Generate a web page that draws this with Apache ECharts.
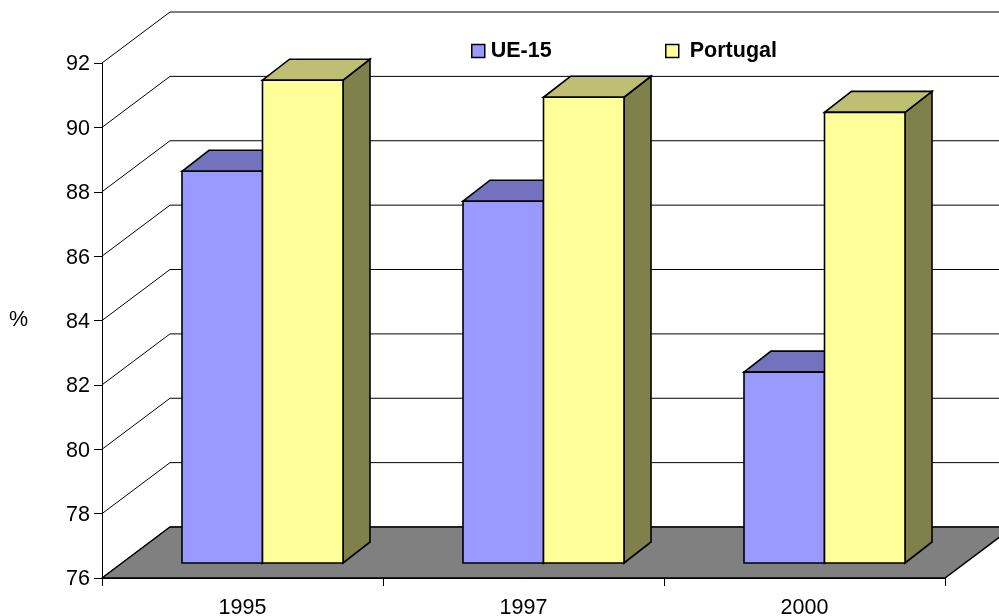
<!DOCTYPE html>
<html>
<head>
<meta charset="utf-8">
<title>UE-15 / Portugal</title>
<style>
html, body { margin: 0; padding: 0; background: #fff; }
#chart { width: 999px; height: 616px; }
</style>
<script src="https://cdn.jsdelivr.net/npm/echarts@6/dist/echarts.min.js"></script>
</head>
<body>
<div id="chart"></div>
<script>
const categories = ['1995', '1997', '2000']
const ue15 = [88.17, 87.24, 81.93]
const portugal = [91.0, 90.47, 90.0]
const tickValues = [76, 78, 80, 82, 84, 86, 88, 90, 92]

const fontName = '"Liberation Sans", Arial, sans-serif'
const labelSize = 21.5

// fake 3D: how far the back wall and the bars are pushed from the axis plane
const wallDx = 68
const wallDy = 51
const barDx = 20
const barDy = 15
const depthDx = 27
const depthDy = 21
const barShare = 0.2865 // bar width as part of a category band

function poly(points, fill, lineWidth) {
	return {
		type: 'polygon',
		shape: { points: points },
		style: { fill: fill, stroke: '#000', lineWidth: lineWidth, lineJoin: 'miter' }
	}
}

function renderFloor(params, api) {
	const y0 = api.coord([0, 76])[1]
	const left = params.coordSys.x
	const right = left + params.coordSys.width
	return poly([
		[left, y0],
		[left + wallDx, y0 - wallDy],
		[right + wallDx, y0 - wallDy],
		[right, y0]
	], '#808080', 1.5)
}

function renderWall(params, api) {
	const y = api.coord([0, api.value(0)])[1]
	const left = params.coordSys.x
	const right = left + params.coordSys.width
	return {
		type: 'polyline',
		shape: { points: [[left, y], [left + wallDx, y - wallDy], [right + wallDx, y - wallDy]] },
		style: { fill: 'none', stroke: '#000', lineWidth: 1 }
	}
}

function makeBarRender(slot, front, top, side) {
	return function (params, api) {
		const band = api.size([1, 0])[0]
		const w = band * barShare
		const p = api.coord([api.value(0), api.value(1)])
		const x0 = p[0] + barDx + (slot - 1) * w
		const x1 = x0 + w
		const y0 = p[1] - barDy
		const y1 = api.coord([0, 76])[1] - barDy
		return {
			type: 'group',
			children: [
				poly([[x1, y0], [x1 + depthDx, y0 - depthDy], [x1 + depthDx, y1 - depthDy], [x1, y1]], side, 1.6),
				poly([[x0, y0], [x0 + depthDx, y0 - depthDy], [x1 + depthDx, y0 - depthDy], [x1, y0]], top, 1.6),
				poly([[x0, y0], [x1, y0], [x1, y1], [x0, y1]], front, 1.6)
			]
		}
	}
}

const chartDom = echarts.init(document.getElementById('chart'))
chartDom.setOption({
	animation: false,
	backgroundColor: '#fff',
	tooltip: { show: false },
	grid: { left: 102, top: 63, width: 843, height: 515, outerBoundsMode: 'none' },
	legend: [
		{
			left: 471, top: 40,
			padding: 0,
			icon: 'rect',
			data: ['UE-15'],
			itemWidth: 13, itemHeight: 13,
			itemStyle: { borderColor: '#000', borderWidth: 1.5 },
			textStyle: { fontFamily: fontName, fontSize: labelSize, fontWeight: 'bold', color: '#000', padding: [0, 0, 0, 1] }
		},
		{
			left: 665, top: 40,
			padding: 0,
			icon: 'rect',
			data: ['Portugal'],
			itemWidth: 13, itemHeight: 13,
			itemStyle: { borderColor: '#000', borderWidth: 1.5 },
			textStyle: { fontFamily: fontName, fontSize: labelSize, fontWeight: 'bold', color: '#000', padding: [0, 0, 0, 6] }
		}
	],
	xAxis: {
		type: 'category',
		data: categories,
		axisLine: { lineStyle: { color: '#000', width: 1 } },
		axisTick: { show: true, length: 8, alignWithLabel: false, lineStyle: { color: '#000' } },
		axisLabel: { margin: 19, fontFamily: fontName, fontSize: labelSize, color: '#000' },
		z: 5
	},
	yAxis: {
		type: 'value',
		min: 76,
		max: 92,
		interval: 2,
		name: '%',
		nameLocation: 'middle',
		nameRotate: 0,
		nameGap: 74,
		nameTextStyle: { fontFamily: fontName, fontSize: labelSize, color: '#000', padding: [0, 0, 7, 0] },
		splitLine: { show: false },
		axisLine: { show: true, lineStyle: { color: '#000', width: 1 } },
		axisTick: { show: true, length: 8, lineStyle: { color: '#000' } },
		axisLabel: {
			margin: 12,
			formatter: '{t|{value}}',
			rich: { t: { fontFamily: fontName, fontSize: labelSize, color: '#000', padding: [3, 0, 0, 0] } }
		},
		z: 5
	},
	series: [
		{ type: 'custom', name: 'wall', coordinateSystem: 'cartesian2d', z: 1, data: tickValues.map(v => [v]), renderItem: renderWall, encode: { y: 0 } },
		{ type: 'custom', name: 'floor', coordinateSystem: 'cartesian2d', z: 2, data: [[0]], renderItem: renderFloor },
		{
			type: 'custom',
			name: 'UE-15',
			coordinateSystem: 'cartesian2d',
			z: 3,
			itemStyle: { color: '#9999FF' },
			data: ue15.map((v, i) => [i, v]),
			renderItem: makeBarRender(0, '#9999FF', '#7272BF', '#4D4D80')
		},
		{
			type: 'custom',
			name: 'Portugal',
			coordinateSystem: 'cartesian2d',
			z: 4,
			itemStyle: { color: '#FFFF99' },
			data: portugal.map((v, i) => [i, v]),
			renderItem: makeBarRender(1, '#FFFF99', '#BFBF73', '#80804D')
		}
	]
})
</script>
</body>
</html>
